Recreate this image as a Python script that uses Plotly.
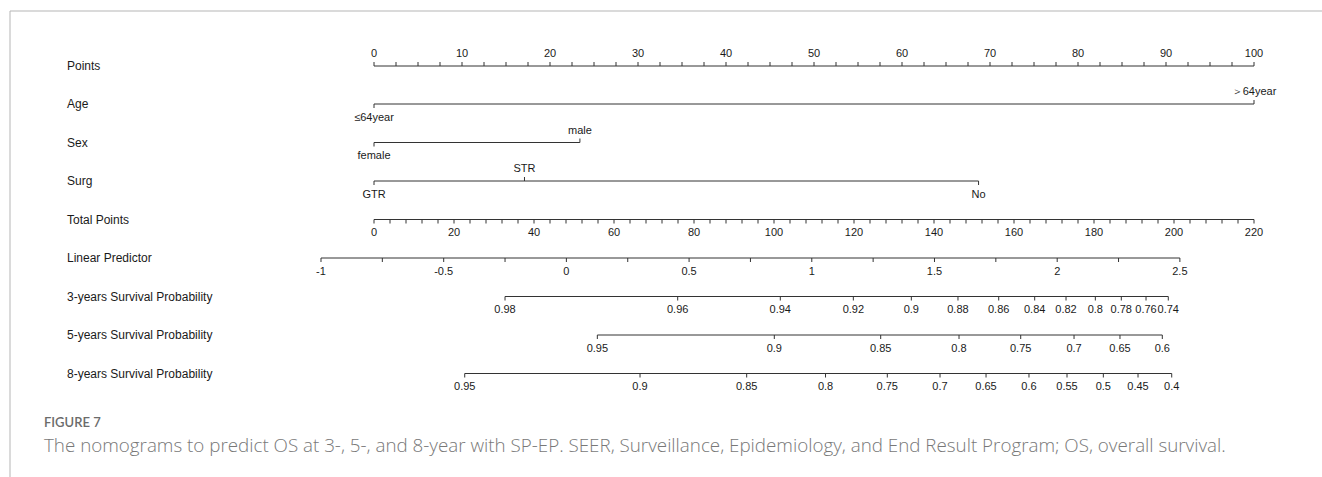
import numpy as np
import plotly.graph_objects as go

# ---------------- data ----------------
row_names = ["Points", "Age", "Sex", "Surg", "Total Points", "Linear Predictor",
             "3-years Survival Probability", "5-years Survival Probability",
             "8-years Survival Probability"]

points_ticks = [i * 2.5 for i in range(41)]
points_labels = list(range(0, 101, 10))

age_levels = ["≤64year", "＞64year"]
age_points = [0, 100]

sex_levels = ["female", "male"]
sex_points = [0, 23.4]

surg_levels = ["GTR", "STR", "No"]
surg_points = [0, 17.1, 68.7]

total_ticks = list(range(0, 221, 4))
total_labels = list(range(0, 221, 20))
total_max = 220

lp_ticks = [-1 + 0.25 * i for i in range(15)]
lp_labels = [-1, -0.5, 0, 0.5, 1, 1.5, 2, 2.5]
lp_at_total0 = -0.784     # linear predictor at 0 total points
lp_at_totalmax = 2.802    # linear predictor at 220 total points

surv3_labels = ["0.98", "0.96", "0.94", "0.92", "0.9", "0.88", "0.86", "0.84",
                "0.82", "0.8", "0.78", "0.76", "0.74"]
surv3_points = [14.89, 34.51, 46.17, 54.47, 61.06, 66.36, 70.99, 75.08,
                78.64, 81.97, 84.92, 87.73, 90.26]

surv5_labels = ["0.95", "0.9", "0.85", "0.8", "0.75", "0.7", "0.65", "0.6"]
surv5_points = [25.38, 45.49, 57.58, 66.48, 73.49, 79.55, 84.77, 89.58]

surv8_labels = ["0.95", "0.9", "0.85", "0.8", "0.75", "0.7", "0.65", "0.6",
                "0.55", "0.5", "0.45", "0.4"]
surv8_points = [10.31, 30.23, 42.35, 51.31, 58.33, 64.32, 69.55, 74.43,
                78.75, 82.88, 86.82, 90.65]

fig_title = "FIGURE 7"
caption = ("The nomograms to predict OS at 3-, 5-, and 8-year with SP-EP. SEER, Surveillance, "
           "Epidemiology, and End Result Program; OS, overall survival.")

# ---------------- layout helpers ----------------
W, H = 1322, 477
row_y = [66, 104, 142.5, 181, 219.5, 258, 296.5, 335, 373.5]
TICK = 4
LINE_COL = "#333333"
TXT_COL = "#1a1a1a"
FONT = "Liberation Sans, Arial, sans-serif"
TICK_FS = 11
NAME_FS = 12
OFF_BELOW = 14
OFF_ABOVE = 11.5


def tp_to_points(tp):
    return np.asarray(tp, dtype=float) * 100.0 / total_max


def lp_to_points(lp):
    tp = (np.asarray(lp, dtype=float) - lp_at_total0) / (lp_at_totalmax - lp_at_total0) * total_max
    return tp_to_points(tp)


fig = go.Figure()


def add_axis(xs, y, tick_xs, tick_dirs, label_xs, label_texts, label_dirs):
    lx, ly = [min(xs), max(xs)], [y, y]
    fig.add_trace(go.Scatter(x=lx, y=ly, mode="lines",
                             line=dict(color=LINE_COL, width=1), hoverinfo="skip"))
    tx, ty = [], []
    for t, d in zip(tick_xs, tick_dirs):
        tx += [t, t, None]
        ty += [y, y + d * TICK, None]
    fig.add_trace(go.Scatter(x=tx, y=ty, mode="lines",
                             line=dict(color=LINE_COL, width=1), hoverinfo="skip"))
    fig.add_trace(go.Scatter(x=list(label_xs),
                             y=[y + (OFF_BELOW if d > 0 else -OFF_ABOVE) for d in label_dirs],
                             mode="text", text=[str(s) for s in label_texts],
                             textposition="middle center",
                             textfont=dict(family=FONT, size=TICK_FS, color=TXT_COL),
                             hoverinfo="skip"))


# Points axis (ticks and labels above)
add_axis([0, 100], row_y[0], points_ticks, [-1] * len(points_ticks),
         points_labels, points_labels, [-1] * len(points_labels))

# categorical variables (labels alternate below / above)
for r, (levels, pts) in enumerate([(age_levels, age_points),
                                   (sex_levels, sex_points),
                                   (surg_levels, surg_points)], start=1):
    dirs = [1 if i % 2 == 0 else -1 for i in range(len(levels))]
    add_axis(pts, row_y[r], pts, dirs, pts, levels, dirs)

# Total points
tpx = tp_to_points(total_ticks)
add_axis(tpx, row_y[4], tpx, [1] * len(tpx),
         tp_to_points(total_labels), total_labels, [1] * len(total_labels))

# Linear predictor
lpx = lp_to_points(lp_ticks)
add_axis(lpx, row_y[5], lpx, [1] * len(lpx),
         lp_to_points(lp_labels), [f"{v:g}" for v in lp_labels], [1] * len(lp_labels))

# Survival probabilities
for r, (labs, pts) in zip([6, 7, 8], [(surv3_labels, surv3_points),
                                      (surv5_labels, surv5_points),
                                      (surv8_labels, surv8_points)]):
    add_axis(pts, row_y[r], pts, [1] * len(pts), pts, labs, [1] * len(pts))

# Row names
annotations = []
for name, y in zip(row_names, row_y):
    annotations.append(dict(x=65 / W, y=y, xref="paper", yref="y", text=name, showarrow=False,
                            xanchor="left", yanchor="middle",
                            font=dict(family=FONT, size=NAME_FS, color=TXT_COL)))

annotations.append(dict(x=42 / W, y=422, xref="paper", yref="y", text=fig_title,
                        showarrow=False, xanchor="left", yanchor="middle",
                        font=dict(family="Lato, Open Sans, sans-serif", size=13, color="#6b6b6b",
                                  weight=600)))
annotations.append(dict(x=42 / W, y=445, xref="paper", yref="y", text=caption,
                        showarrow=False, xanchor="left", yanchor="middle",
                        font=dict(family="Open Sans, Lato, sans-serif", size=18.8, color="#787878",
                                  weight=300)))

px_per_pt = 8.8
x0_px = 374
fig.update_layout(
    width=W, height=H,
    margin=dict(l=0, r=0, t=0, b=0),
    paper_bgcolor="white", plot_bgcolor="white",
    showlegend=False,
    xaxis=dict(range=[-x0_px / px_per_pt, (W - x0_px) / px_per_pt], visible=False, fixedrange=True),
    yaxis=dict(range=[H, 0], visible=False, fixedrange=True),
    annotations=annotations,
    shapes=[
        dict(type="line", xref="paper", yref="y", x0=10 / W, x1=1, y0=11, y1=11,
             line=dict(color="#b5b5b5", width=1)),
        dict(type="line", xref="paper", yref="y", x0=10 / W, x1=10 / W, y0=11, y1=H,
             line=dict(color="#b5b5b5", width=1)),
    ],
)

fig.write_html("out.html")
